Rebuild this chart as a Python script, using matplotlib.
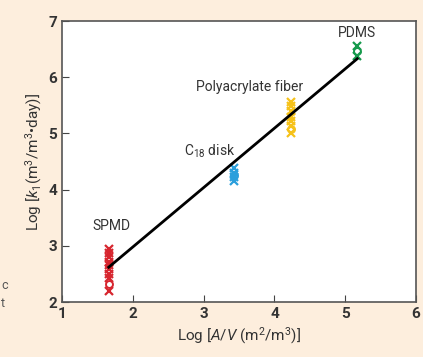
import matplotlib.pyplot as plt

plt.rcParams['font.family'] = ['Roboto', 'DejaVu Sans']
plt.rcParams['mathtext.fontset'] = 'custom'
plt.rcParams['mathtext.rm'] = 'Roboto'
plt.rcParams['mathtext.it'] = 'Roboto:italic'

# Данні по пробовідбірниках
spmd_x = 1.66
spmd_y = [2.95, 2.88, 2.80, 2.72, 2.65, 2.58, 2.50, 2.42, 2.20]
spmd_circ = [2.32]

c18_x = 3.43
c18_y = [4.38, 4.30, 4.22, 4.16]
c18_circ = [4.26]

poly_x = 4.23
poly_y = [5.56, 5.48, 5.40, 5.30, 5.22, 5.14, 5.00]
poly_circ = [5.08]

pdms_x = 5.17
pdms_y = [6.56, 6.38]
pdms_circ = [6.46]

fit_x = [1.66, 5.17]
fit_y = [2.62, 6.33]

bg = '#fdeedd'
txt = '#333333'

fig = plt.figure(figsize=(4.23, 3.57), dpi=100, facecolor=bg)
ax = fig.add_axes([0.1466, 0.154, 0.837, 0.787])

groups = [
    (spmd_x, spmd_y, spmd_circ, '#d7262f'),
    (c18_x, c18_y, c18_circ, '#2b9fdc'),
    (poly_x, poly_y, poly_circ, '#f6c21a'),
    (pdms_x, pdms_y, pdms_circ, '#169a4c'),
]
for gx, gy, gc, col in groups:
    ax.plot([gx] * len(gy), gy, 'x', color=col, ms=6, mew=1.6, zorder=2)
    ax.plot([gx] * len(gc), gc, 'o', mfc='none', mec=col, ms=5, mew=1.4, zorder=2)

ax.plot(fit_x, fit_y, color='black', lw=2, zorder=3)

ax.text(1.7, 3.22, 'SPMD', fontsize=10, color=txt, ha='center', va='bottom')
ax.text(3.08, 4.52, 'C$_{18}$ disk', fontsize=10, color=txt, ha='center', va='bottom')
ax.text(3.65, 5.7, 'Polyacrylate fiber', fontsize=10, color=txt, ha='center', va='bottom')
ax.text(5.17, 6.66, 'PDMS', fontsize=10, color=txt, ha='center', va='bottom')

ax.set_xlim(1, 6)
ax.set_ylim(2, 7)
ax.set_xticks([1, 2, 3, 4, 5, 6])
ax.set_yticks([2, 3, 4, 5, 6, 7])
ax.tick_params(direction='in', length=5, colors='#444444', labelcolor=txt, labelsize=11)
for lab in ax.get_xticklabels() + ax.get_yticklabels():
    lab.set_fontweight('bold')
for s in ax.spines.values():
    s.set_color('#555555')
    s.set_linewidth(1.2)

ax.set_xlabel('Log [$\\mathit{A/V}$ (m$^2$/m$^3$)]', fontsize=11, color=txt, labelpad=3)
ax.set_ylabel('Log [$\\mathit{k}_1$(m$^3$/m$^3$•day)]', fontsize=11, color=txt, labelpad=3)

# обрізаний текст з сусідньої колонки
fig.text(0.003, 0.19, 'c', fontsize=9, color='#555555')
fig.text(0.003, 0.14, 't', fontsize=9, color='#555555')

fig.savefig('out.png', dpi=100, facecolor=bg)
